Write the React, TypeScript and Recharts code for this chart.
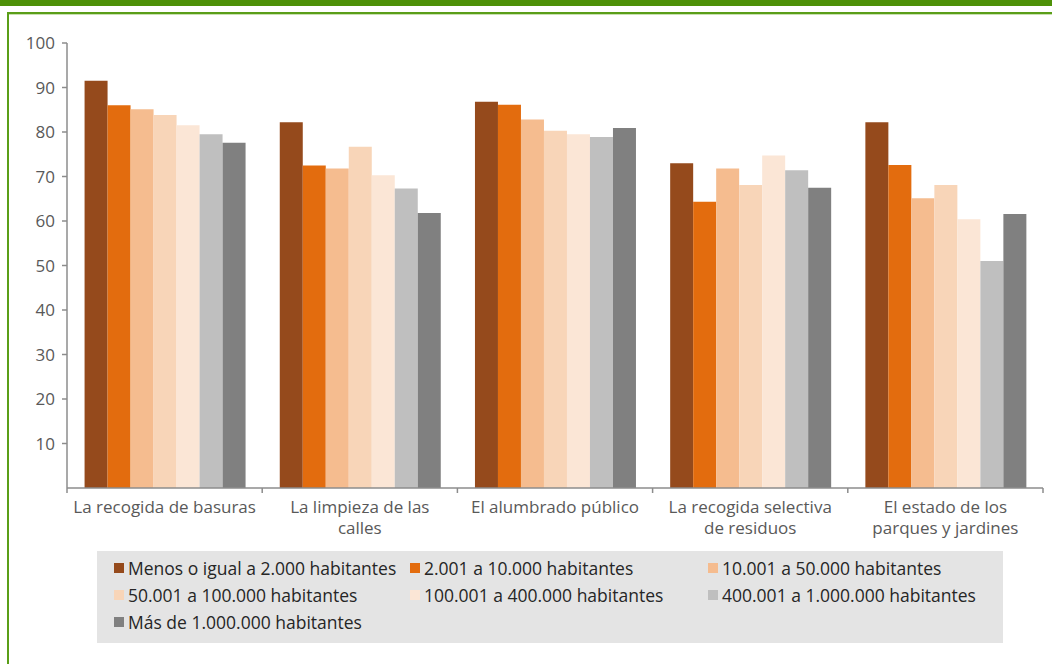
import React from 'react';
import { BarChart, Bar, XAxis, YAxis, Legend } from 'recharts';

const categories = [
  'La recogida de basuras',
  'La limpieza de las calles',
  'El alumbrado público',
  'La recogida selectiva de residuos',
  'El estado de los parques y jardines',
];
const categoryLines = [
  ['La recogida de basuras'],
  ['La limpieza de las', 'calles'],
  ['El alumbrado público'],
  ['La recogida selectiva', 'de residuos'],
  ['El estado de los', 'parques y jardines'],
];
const seriesNames = [
  'Menos o igual a 2.000 habitantes',
  '2.001 a 10.000 habitantes',
  '10.001 a 50.000 habitantes',
  '50.001 a 100.000 habitantes',
  '100.001 a 400.000 habitantes',
  '400.001 a 1.000.000 habitantes',
  'Más de 1.000.000 habitantes',
];
const hasta2000 = [91.5, 82.2, 86.8, 73.0, 82.2];
const de2001a10000 = [86.0, 72.5, 86.1, 64.3, 72.6];
const de10001a50000 = [85.1, 71.8, 82.8, 71.8, 65.1];
const de50001a100000 = [83.8, 76.7, 80.3, 68.1, 68.1];
const de100001a400000 = [81.5, 70.3, 79.5, 74.7, 60.4];
const de400001a1000000 = [79.5, 67.3, 78.9, 71.4, 51.0];
const masDe1000000 = [77.6, 61.8, 80.9, 67.5, 61.6];
const yTicks = [10, 20, 30, 40, 50, 60, 70, 80, 90, 100];

const seriesValues = [
  hasta2000,
  de2001a10000,
  de10001a50000,
  de50001a100000,
  de100001a400000,
  de400001a1000000,
  masDe1000000,
];
const seriesColors = ['#954A1C', '#E36C0E', '#F5BC8F', '#F8D5B8', '#FBE6D6', '#BFBFBF', '#808080'];
const keys = seriesValues.map((_, i) => 's' + i);

const data = categories.map((c, ci) => {
  const row: any = { category: c, idx: ci };
  seriesValues.forEach((vals, si) => {
    row[keys[si]] = vals[ci];
  });
  return row;
});

const W = 1052;
const H = 664;
const MARGIN = { top: 43, right: 9, left: 0, bottom: 24 };
const Y_AXIS_W = 67;
const PLOT_W = W - MARGIN.left - MARGIN.right - Y_AXIS_W;
const AXIS_COLOR = '#8C8C8C';
const LABEL_COLOR = '#595959';
const FONT = "'Open Sans', 'DejaVu Sans', sans-serif";

const CategoryTick = (props: any) => {
  const { x, y, payload, index } = props;
  const i = payload && typeof payload.index === 'number' ? payload.index : index;
  const lines = categoryLines[i] || [String(payload.value)];
  const half = PLOT_W / categories.length / 2;
  return (
    <g>
      <line x1={x - half} x2={x - half} y1={y} y2={y + 5} stroke={AXIS_COLOR} strokeWidth={1.5} />
      {i === categories.length - 1 && (
        <line x1={x + half} x2={x + half} y1={y} y2={y + 5} stroke={AXIS_COLOR} strokeWidth={1.5} />
      )}
      <text x={x} y={y + 25} textAnchor="middle" fill={LABEL_COLOR} fontSize={17} fontFamily={FONT}>
        {lines.map((l, li) => (
          <tspan key={li} x={x} dy={li === 0 ? 0 : 21}>
            {l}
          </tspan>
        ))}
      </text>
    </g>
  );
};

const LegendContent = () => (
  <div
    style={{
      background: '#E4E4E4',
      boxSizing: 'border-box',
      width: 906,
      height: 92,
      padding: '3px 0 0 17px',
      display: 'grid',
      gridTemplateColumns: '296px 298px auto',
      gridAutoRows: '27px',
      fontFamily: FONT,
      fontSize: 17.5,
      color: '#262626',
    }}
  >
    {seriesNames.map((name, i) => (
      <div key={name} style={{ display: 'flex', alignItems: 'center', whiteSpace: 'nowrap' }}>
        <span
          style={{
            display: 'inline-block',
            width: 10,
            height: 10,
            background: seriesColors[i],
            marginRight: 4,
            flex: 'none',
          }}
        />
        <span>{name}</span>
      </div>
    ))}
  </div>
);

export default function App() {
  return (
    <div style={{ position: 'absolute', left: 0, top: 0, width: W, height: H, background: '#FFFFFF', overflow: 'hidden' }}>
      <div style={{ position: 'absolute', left: 0, top: 0, width: W, height: 6, background: '#4E9108' }} />
      <div style={{ position: 'absolute', left: 7, top: 12, width: W, height: 2, background: '#5A9E18' }} />
      <div style={{ position: 'absolute', left: 7, top: 14, width: W, height: 1, background: '#C9E0B0' }} />
      <div style={{ position: 'absolute', left: 7, top: 12, width: 2, height: H, background: '#5A9E18' }} />
      <div style={{ position: 'absolute', left: 0, top: 0 }}>
        <BarChart width={W} height={H} data={data} margin={MARGIN} barCategoryGap="9%" barGap={0}>
          <XAxis
            dataKey="category"
            interval={0}
            height={60}
            tickSize={0}
            tickMargin={0}
            tickLine={false}
            axisLine={{ stroke: AXIS_COLOR, strokeWidth: 1.5 }}
            tick={<CategoryTick />}
          />
          <YAxis
            width={Y_AXIS_W}
            domain={[0, 100]}
            ticks={yTicks}
            interval={0}
            tickSize={5}
            tickMargin={7}
            axisLine={{ stroke: AXIS_COLOR, strokeWidth: 1.5 }}
            tickLine={{ stroke: AXIS_COLOR, strokeWidth: 1.5 }}
            tick={{ fill: LABEL_COLOR, fontSize: 17, fontFamily: FONT }}
          />
          {keys.map((k, i) => (
            <Bar key={k} dataKey={k} name={seriesNames[i]} fill={seriesColors[i]} isAnimationActive={false} />
          ))}
          <Legend
            verticalAlign="bottom"
            width={906}
            content={<LegendContent />}
            wrapperStyle={{ left: 97, top: 551, bottom: 'auto', width: 906 }}
          />
        </BarChart>
      </div>
    </div>
  );
}
